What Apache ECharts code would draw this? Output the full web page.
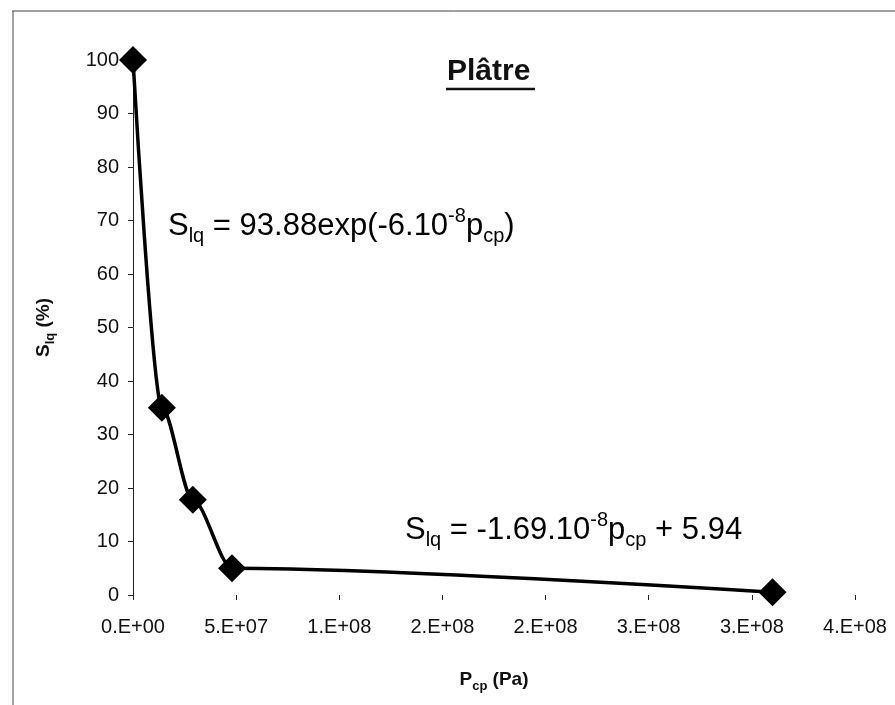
<!DOCTYPE html>
<html>
<head>
<meta charset="utf-8">
<script src="https://cdn.jsdelivr.net/npm/echarts@6/dist/echarts.min.js"></script>
<style>html,body{margin:0;padding:0;background:#fff}#chart{width:895px;height:705px}</style>
</head>
<body>
<div id="chart"></div>
<script>
// data
var pcp = [0, 1.4e7, 2.9e7, 4.8e7, 3.1e8];
var slq = [100, 35, 17.8, 5, 0.5];
var xTickLabels = ['0.E+00', '5.E+07', '1.E+08', '2.E+08', '2.E+08', '3.E+08', '3.E+08', '4.E+08'];
var yTicks = [0, 10, 20, 30, 40, 50, 60, 70, 80, 90, 100];

var FONT = '"Liberation Sans", Arial, sans-serif';
var chart = echarts.init(document.getElementById('chart'));
var pts = pcp.map(function (x, i) { return [x, slq[i]]; });

var eqRich = {
	s: {fontSize: 31, fontFamily: FONT, color: '#111', lineHeight: 40, verticalAlign: 'middle'},
	sub: {fontSize: 20, fontFamily: FONT, color: '#111', lineHeight: 40, verticalAlign: 'bottom'},
	sup: {fontSize: 20, fontFamily: FONT, color: '#111', lineHeight: 40, verticalAlign: 'top'}
};
var nameRich = {
	b: {fontSize: 19, fontWeight: 'bold', fontFamily: FONT, color: '#111', lineHeight: 26, verticalAlign: 'middle'},
	bs: {fontSize: 13, fontWeight: 'bold', fontFamily: FONT, color: '#111', lineHeight: 26, verticalAlign: 'bottom'}
};

var option = {
	backgroundColor: '#fff',
	animation: false,
	grid: {left: 133, right: 40, top: 60, bottom: 110},
	xAxis: {
		type: 'value', min: 0, max: 3.5e8, interval: 5e7,
		splitLine: {show: false},
		axisLine: {show: false, onZero: false},
		axisTick: {show: true, length: 5, lineStyle: {color: '#222', width: 1}},
		axisLabel: {margin: 22, fontSize: 20, fontFamily: FONT, color: '#111',
			formatter: function (v) { return xTickLabels[Math.round(v / 5e7)]; }},
		name: '{b|P}{bs|cp}{b| (Pa)}', nameLocation: 'middle', nameGap: 72,
		nameTextStyle: {rich: nameRich}
	},
	yAxis: {
		type: 'value', min: 0, max: 100, interval: 10,
		splitLine: {show: false},
		axisLine: {show: true, lineStyle: {color: '#222', width: 1}},
		axisTick: {show: true, length: 5, lineStyle: {color: '#222'}},
		axisLabel: {margin: 14, fontSize: 20, fontFamily: FONT, color: '#111',
			formatter: function (v) { return yTicks.indexOf(v) >= 0 ? String(v) : ''; }},
		name: '{b|S}{bs|lq}{b| (%)}', nameLocation: 'middle', nameGap: 76, nameRotate: 90,
		nameTextStyle: {rich: nameRich}
	},
	series: [{
		type: 'line', data: pts, smooth: 0.3, smoothMonotone: 'x', clip: false,
		symbol: 'diamond', symbolSize: 28,
		itemStyle: {color: '#000'},
		lineStyle: {color: '#000', width: 3.5}
	}],
	graphic: [
		{type: 'line', shape: {x1: 12, y1: 11, x2: 895, y2: 11}, style: {stroke: '#444', lineWidth: 1}},
		{type: 'line', shape: {x1: 13, y1: 11, x2: 13, y2: 705}, style: {stroke: '#444', lineWidth: 1}},
		{type: 'text', left: 447, top: 57, style: {text: 'Plâtre', fontSize: 30, fontWeight: 'bold', fontFamily: FONT, fill: '#111'}},
		{type: 'line', shape: {x1: 446, y1: 89, x2: 535, y2: 89}, style: {stroke: '#111', lineWidth: 2.5}},
		{type: 'text', left: 168, top: 206, style: {
			text: '{s|S}{sub|lq}{s| = 93.88exp(-6.10}{sup|-8}{s|p}{sub|cp}{s|)}', rich: eqRich}},
		{type: 'text', left: 405, top: 510, style: {
			text: '{s|S}{sub|lq}{s| = -1.69.10}{sup|-8}{s|p}{sub|cp}{s| + 5.94}', rich: eqRich}}
	]
};
chart.setOption(option);
</script>
</body>
</html>
